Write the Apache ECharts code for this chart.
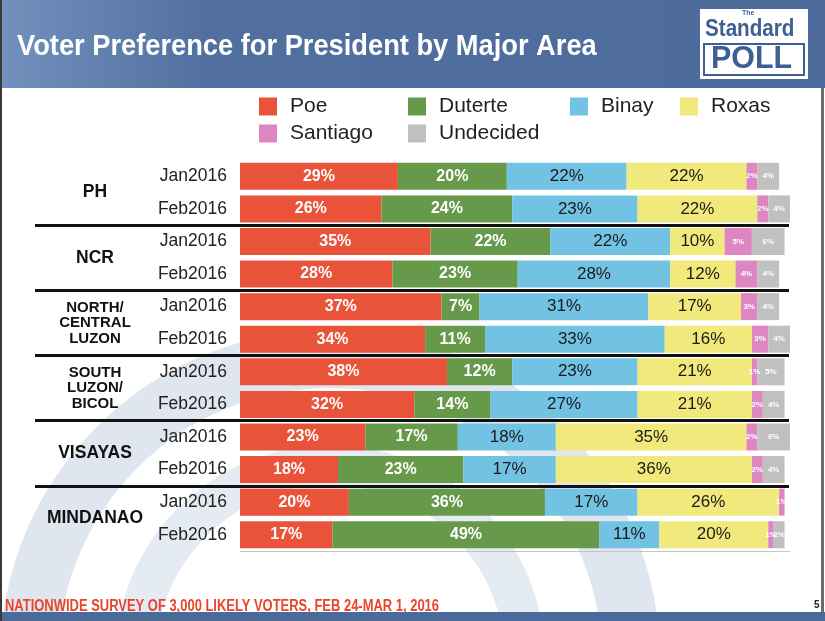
<!DOCTYPE html>
<html>
<head>
<meta charset="utf-8">
<title>Voter Preference for President by Major Area</title>
<script src="https://cdn.jsdelivr.net/npm/echarts@6/dist/echarts.min.js"></script>
<style>
  html, body { margin: 0; padding: 0; background: #fff; }
  #chart { width: 825px; height: 621px; }
</style>
</head>
<body>
<div id="chart"></div>
<script>
// areas on the left, every area has two survey rounds
var areas = ['PH', 'NCR', 'NORTH/\nCENTRAL\nLUZON', 'SOUTH\nLUZON/\nBICOL', 'VISAYAS', 'MINDANAO'];
var rounds = ['Jan2016', 'Feb2016'];
var candidates = ['Poe', 'Duterte', 'Binay', 'Roxas', 'Santiago', 'Undecided'];

// rows: PH Jan, PH Feb, NCR Jan, NCR Feb, N/C Luzon Jan, Feb, S Luzon Jan, Feb, Visayas Jan, Feb, Mindanao Jan, Feb
var poe       = [29, 26, 35, 28, 37, 34, 38, 32, 23, 18, 20, 17];
var duterte   = [20, 24, 22, 23,  7, 11, 12, 14, 17, 23, 36, 49];
var binay     = [22, 23, 22, 28, 31, 33, 23, 27, 18, 17, 17, 11];
var roxas     = [22, 22, 10, 12, 17, 16, 21, 21, 35, 36, 26, 20];
var santiago  = [ 2,  2,  5,  4,  3,  3,  1,  2,  2,  2,  1,  1];
var undecided = [ 4,  4,  6,  4,  4,  4,  5,  4,  6,  4,  0,  2];

var colors = ['#e8533a', '#66994a', '#72c2e3', '#f1e97c', '#dd86c1', '#c0c0c0'];

// row keys (unique), label shows only the round
var rows = [];
areas.forEach(function (a, i) {
  rounds.forEach(function (r) { rows.push(i + '|' + r); });
});

var FONT = '"Liberation Sans", Arial, Helvetica, sans-serif';

var labelWhite = { show: true, color: '#fff', fontWeight: 'bold', fontSize: 16, fontFamily: FONT };
var labelDark = { show: true, color: '#1a1a1a', fontSize: 17, fontFamily: FONT };
var labelSmall = { show: true, color: '#fff', fontWeight: 'bold', fontSize: 8, fontFamily: FONT };

function pct(p) { return p.value > 0 ? p.value + '%' : ''; }

function mkSeries(name, data, idx, label) {
  return {
    name: name,
    type: 'bar',
    stack: 'total',
    xAxisIndex: 1,
    yAxisIndex: 1,
    barWidth: 27,
    data: data,
    itemStyle: { color: colors[idx] },
    label: Object.assign({ position: 'inside', formatter: pct }, label),
    emphasis: { disabled: true }
  };
}

var legendPos = [[259, 96], [408, 96], [570, 96], [680, 96], [259, 123], [408, 123]];

var chart = echarts.init(document.getElementById('chart'));
chart.setOption({
  animation: false,
  color: colors,
  legend: candidates.map(function (c, i) {
    return {
      data: [c],
      left: legendPos[i][0], top: legendPos[i][1],
      padding: 0,
      icon: 'rect',
      itemWidth: 18, itemHeight: 18,
      selectedMode: false,
      textStyle: { fontSize: 21, color: '#222', fontFamily: FONT, padding: [0, 0, 0, 8] }
    };
  }),
  grid: [
    // separators and area names
    { left: 35, width: 754, top: 160, height: 391 },
    // bars
    { left: 240, width: 550, top: 160, height: 391 }
  ],
  xAxis: [
    { gridIndex: 0, type: 'value', min: 0, max: 1, show: false },
    {
      gridIndex: 1, type: 'value', min: 0, max: 101,
      axisLine: { show: true, lineStyle: { color: '#c4c4c4', width: 1 } },
      axisTick: { show: false }, axisLabel: { show: false }, splitLine: { show: false }
    }
  ],
  yAxis: [
    {
      gridIndex: 0, type: 'category', inverse: true, data: areas,
      axisLine: { show: false }, axisTick: { show: false },
      splitLine: { show: true, showMinLine: false, showMaxLine: false, lineStyle: { color: '#111', width: 3 } },
      axisLabel: {
        inside: true, margin: 60, align: 'center',
        formatter: function (v) {
          var parts = v.split('\n');
          if (parts.length > 1) {
            return parts.map(function (s) { return '{s|' + s + '}'; }).join('\n');
          }
          return '{b|' + v + '}';
        },
        rich: {
          b: { fontSize: 17.5, fontWeight: 'bold', color: '#111', fontFamily: FONT },
          s: { fontSize: 15, fontWeight: 'bold', color: '#111', fontFamily: FONT, lineHeight: 15.5 }
        }
      }
    },
    {
      gridIndex: 1, type: 'category', inverse: true, data: rows,
      axisLine: { show: false }, axisTick: { show: false },
      axisLabel: {
        margin: 13, color: '#222', fontSize: 17.5, fontFamily: FONT,
        formatter: function (v) { return v.split('|')[1]; }
      }
    }
  ],
  graphic: [
    // faint watermark rings behind the chart
    { type: 'ring', z: -20, shape: { cx: 330, cy: 660, r: 330, r0: 272 }, style: { fill: '#dfe6ef' } },
    { type: 'ring', z: -20, shape: { cx: 330, cy: 660, r: 215, r0: 175 }, style: { fill: '#e5ebf2' } },
    // header band
    {
      type: 'rect', z: -10, shape: { x: 0, y: 0, width: 825, height: 88 },
      style: {
        fill: new echarts.graphic.LinearGradient(0, 0, 1, 0, [
          { offset: 0, color: '#7391bd' },
          { offset: 0.25, color: '#52709f' },
          { offset: 1, color: '#4c6a9a' }
        ])
      }
    },
    // title, condensed like the original
    {
      type: 'text', z: 10, x: 17, y: 32, scaleX: 0.94,
      style: { text: 'Voter Preference for President by Major Area', fill: '#fff', font: 'bold 29px ' + FONT }
    },
    // footer band, note and page number
    { type: 'rect', z: -10, shape: { x: 0, y: 612, width: 825, height: 9 }, style: { fill: '#4a6a9a' } },
    {
      type: 'text', z: 10, x: 5, y: 599, scaleX: 0.81,
      style: { text: 'NATIONWIDE SURVEY OF 3,000 LIKELY VOTERS, FEB 24-MAR 1, 2016', fill: '#e8452c', font: 'bold 16px ' + FONT }
    },
    {
      type: 'text', z: 10, x: 814, y: 600,
      style: { text: '5', fill: '#222', font: 'bold 10px ' + FONT }
    },
    // frame edges
    { type: 'rect', z: -5, shape: { x: 0, y: 0, width: 2, height: 621 }, style: { fill: '#3a3a3a' } },
    { type: 'rect', z: -5, shape: { x: 821, y: 88, width: 3, height: 524 }, style: { fill: '#6b6b6b' } },
    // logo
    { type: 'rect', z: -5, shape: { x: 700, y: 9, width: 108, height: 70 }, style: { fill: '#fff' } },
    { type: 'rect', z: -4, shape: { x: 704, y: 44, width: 100, height: 31 }, style: { fill: 'none', stroke: '#3d5f94', lineWidth: 2 } },
    {
      type: 'text', z: -4, x: 742, y: 10,
      style: { text: 'The', fill: '#3d5f94', font: 'bold 7px ' + FONT }
    },
    {
      type: 'text', z: -4, x: 705, y: 17, scaleX: 0.86,
      style: { text: 'Standard', fill: '#3d5f94', font: 'bold 24px ' + FONT }
    },
    {
      type: 'text', z: -4, x: 711, y: 44, scaleX: 0.98,
      style: { text: 'POLL', fill: '#3d5f94', font: 'bold 31px ' + FONT }
    }
  ],
  series: [
    mkSeries('Poe', poe, 0, labelWhite),
    mkSeries('Duterte', duterte, 1, labelWhite),
    mkSeries('Binay', binay, 2, labelDark),
    mkSeries('Roxas', roxas, 3, labelDark),
    mkSeries('Santiago', santiago, 4, labelSmall),
    mkSeries('Undecided', undecided, 5, labelSmall)
  ]
});
</script>
</body>
</html>
